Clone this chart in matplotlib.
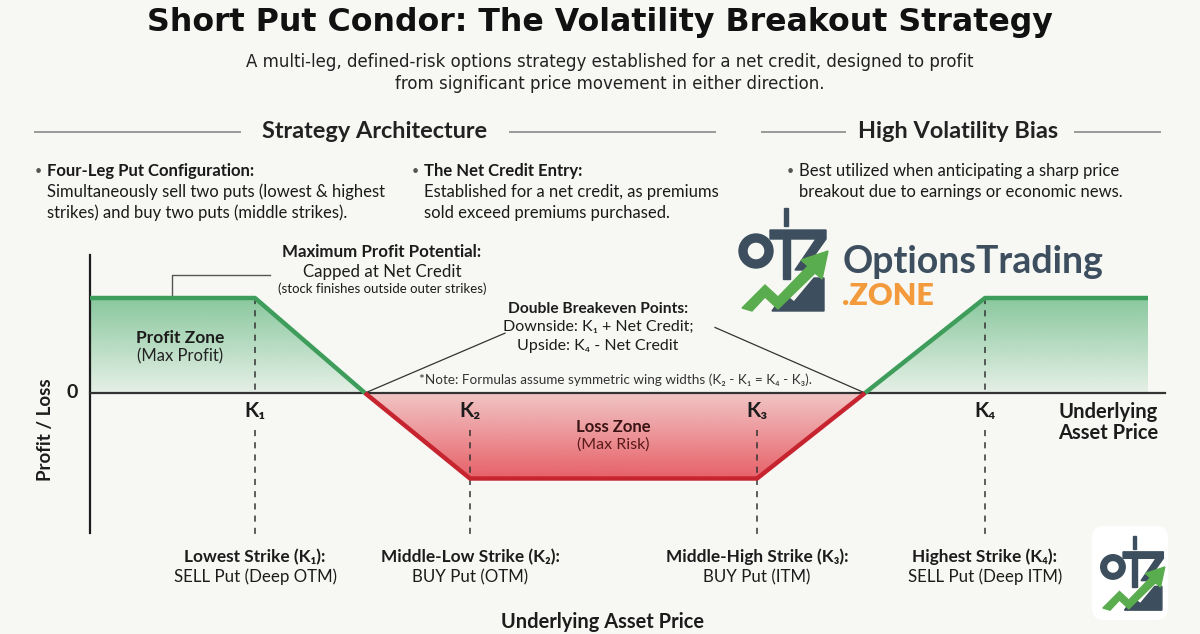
import numpy as np
import matplotlib
matplotlib.use("Agg")
import matplotlib.pyplot as plt
from matplotlib.patches import Rectangle, Wedge, Polygon, FancyBboxPatch

# --- payoff data (price in arbitrary units, P/L in units of net credit) ---
price_pts = [9.0, 25.5, 36.5, 47.0, 75.7, 86.5, 98.5, 114.8]
pnl_pts = [1.0, 1.0, 0.0, -0.9, -0.9, 0.0, 1.0, 1.0]
strikes = [25.5, 47.0, 75.7, 98.5]
strike_names = ["K\u2081", "K\u2082", "K\u2083", "K\u2084"]
strike_titles = ["Lowest Strike (K\u2081):", "Middle-Low Strike (K\u2082):",
                 "Middle-High Strike (K\u2083):", "Highest Strike (K\u2084):"]
strike_actions = ["SELL Put (Deep OTM)", "BUY Put (OTM)", "BUY Put (ITM)", "SELL Put (Deep ITM)"]

W, H = 1200, 634
BG = "#f7f8f4"
DARK = "#1c1c1c"
SLATE = "#3d4f5e"
GREEN = "#3f9d5c"
RED = "#c62530"
FONT = ["Lato", "DejaVu Sans"]
WIDE = ["DejaVu Sans"]
plt.rcParams["font.family"] = FONT

fig = plt.figure(figsize=(12, 6.34), dpi=100, facecolor=BG)

# decoration layer in pixel coordinates (y down)
deco = fig.add_axes([0, 0, 1, 1])
deco.set_xlim(0, W)
deco.set_ylim(H, 0)
deco.axis("off")
deco.patch.set_alpha(0)

# chart layer: zero line at y=393 px, 95 px per unit of P/L
ax = fig.add_axes([0, 0, 1, 1])
ax.axis("off")
ax.patch.set_alpha(0)
ax.set_autoscale_on(False)
ax.set_xlim(0, 120)
ax.set_ylim(-(H - 393) / 95, 393 / 95)


def T(x, y, s, size=11, weight="normal", color=DARK, ha="center", **kw):
    fig.text(x / W, 1 - y / H, s, fontsize=size, fontweight=weight, color=color,
             ha=ha, va="center", **kw)


def grad_fill(xs, ys, rgb, a_top, a_bot):
    poly = ax.fill_between(xs, ys, 0, color="none", lw=0)
    path = poly.get_paths()[0]
    lo, hi = min(min(ys), 0), max(max(ys), 0)
    alpha = np.linspace(a_top, a_bot, 256).reshape(-1, 1)
    img = np.zeros((256, 1, 4))
    img[..., 0], img[..., 1], img[..., 2] = rgb[0] / 255, rgb[1] / 255, rgb[2] / 255
    img[..., 3] = alpha
    im = ax.imshow(img, extent=[min(xs), max(xs), lo, hi], origin="upper",
                   aspect="auto", interpolation="bilinear", zorder=1)
    im.set_clip_path(path, transform=ax.transData)


# fills
grad_fill(price_pts[0:3], pnl_pts[0:3], (70, 170, 105), 0.62, 0.10)
grad_fill(price_pts[5:], pnl_pts[5:], (70, 170, 105), 0.62, 0.10)
grad_fill(price_pts[2:6], pnl_pts[2:6], (228, 70, 80), 0.28, 0.85)

# axes lines
ax.plot([price_pts[0], price_pts[0]], [-(533 - 393) / 95, (393 - 255) / 95], color=DARK, lw=1.6, zorder=3)
ax.plot([price_pts[0], 116.5], [0, 0], color="#333333", lw=1.6, zorder=3)

# payoff line
ax.plot(price_pts[0:3], pnl_pts[0:3], color=GREEN, lw=3.2, zorder=4, solid_capstyle="butt")
ax.plot(price_pts[5:], pnl_pts[5:], color=GREEN, lw=3.2, zorder=4, solid_capstyle="butt")
ax.plot(price_pts[2:6], pnl_pts[2:6], color=RED, lw=3.2, zorder=4, solid_capstyle="butt")

# strike guides and labels
for k, name in zip(strikes, strike_names):
    p = float(np.interp(k, price_pts, pnl_pts))
    if p > 0:
        ax.plot([k, k], [p, 0], color="#333333", lw=1.1, ls=(0, (4, 4)), zorder=2)
    ax.plot([k, k], [-0.39, -1.54], color="#333333", lw=1.1, ls=(0, (4, 4)), zorder=2)
    ax.text(k, -0.19, name, ha="center", va="center", fontsize=15, fontweight="bold", color=DARK)

# leader lines
ax.plot([17.2, 17.2, 27.0], [1.0, 1.24, 1.24], color="#555555", lw=1.0, zorder=3)
ax.plot([36.5, 50.5], [0, 0.63], color="#333333", lw=0.9, zorder=3)
ax.plot([71.5, 86.5], [0.69, 0], color="#333333", lw=0.9, zorder=3)

# --- title block ---
T(600, 23, "Short Put Condor: The Volatility Breakout Strategy", size=22.8, weight="bold",
  color="#111111", family=WIDE)
T(610, 62, "A multi-leg, defined-risk options strategy established for a net credit, designed to profit",
  size=12.0, color="#222222", family=WIDE)
T(610, 84, "from significant price movement in either direction.", size=12.0, color="#222222", family=WIDE)

# section headers
for x0, x1 in [(35, 240), (510, 715), (762, 845), (1075, 1160)]:
    deco.plot([x0, x1], [132, 132], color="#9a9a9a", lw=1.4)
T(375, 132, "Strategy Architecture", size=16.9, weight="bold", color="#222222")
T(958, 132, "High Volatility Bias", size=16.9, weight="bold", color="#222222")

bullets = [
    (35, ["Four-Leg Put Configuration:", "Simultaneously sell two puts (lowest & highest",
          "strikes) and buy two puts (middle strikes)."]),
    (412, ["The Net Credit Entry:", "Established for a net credit, as premiums",
           "sold exceed premiums purchased."]),
    (787, ["Best utilized when anticipating a sharp price",
           "breakout due to earnings or economic news."]),
]
for bx, lines in bullets:
    T(bx, 171, "\u2022", size=9, color="#555555", ha="left")
    for i, line in enumerate(lines):
        bold = (i == 0 and line.endswith(":"))
        T(bx + 12, 171 + 21 * i, line, size=12.0, weight="bold" if bold else "normal",
          color="#1a1a1a", ha="left")

# chart annotations
T(382, 252, "Maximum Profit Potential:", size=12.2, weight="bold")
T(382, 272, "Capped at Net Credit", size=12.2)
T(382, 289, "(stock finishes outside outer strikes)", size=9.5)
T(180, 338, "Profit Zone", size=12.5, weight="bold")
T(180, 356, "(Max Profit)", size=12, color="#222222")
T(598, 309, "Double Breakeven Points:", size=11.2, weight="bold")
T(598, 327, "Downside: K\u2081 + Net Credit;", size=11.5)
T(598, 346, "Upside: K\u2084 - Net Credit", size=11.5)
T(615, 380, "*Note: Formulas assume symmetric wing widths (K\u2082 - K\u2081 = K\u2084 - K\u2083).",
  size=9.7, color="#333333")
T(613, 427, "Loss Zone", size=12, weight="bold", color="#3a1414")
T(613, 445, "(Max Risk)", size=11.5, color="#5a1a1a")

T(72, 393, "0", size=14, weight="bold")
T(45, 430, "Profit / Loss", size=13.5, weight="bold", rotation=90)
T(1058, 412, "Underlying", size=14.5, weight="bold", ha="left")
T(1058, 433, "Asset Price", size=14.5, weight="bold", ha="left")

for k, t1, t2 in zip(strikes, strike_titles, strike_actions):
    xp = k * 10
    T(xp, 557, t1, size=12.4, weight="bold")
    T(xp, 577, t2, size=12.2)
T(603, 622, "Underlying Asset Price", size=14.4, weight="bold")


# --- logo ---
def icon(x0, y0, s):
    def P(pts):
        return [(x0 + a * s, y0 + b * s) for a, b in pts]
    deco.add_patch(Rectangle((x0 + 46 * s, y0), 4 * s, 18 * s, color=SLATE, zorder=6))
    deco.add_patch(Wedge((x0 + 18 * s, y0 + 43 * s), 17 * s, 0, 360, width=8 * s, color=SLATE, zorder=6))
    deco.add_patch(Polygon(P([(32, 22), (88, 22), (88, 31), (66, 62), (57, 62), (78, 31), (32, 31)]),
                           color=SLATE, zorder=6))
    deco.add_patch(Rectangle((x0 + 45 * s, y0 + 31 * s), 7 * s, 40 * s, color=SLATE, zorder=6))
    deco.add_patch(Polygon(P([(34, 103), (86, 103), (86, 70), (76, 70), (56, 94), (46, 86)]),
                           color=SLATE, zorder=6))
    deco.add_patch(Polygon(P([(4, 100), (27, 77), (40, 89), (70, 58), (63, 52), (90, 43),
                              (84, 71), (77, 65), (40, 101), (27, 89), (14, 103)]),
                           color="#5aad4e", zorder=7))


icon(738, 208, 1.0)
T(843, 262, "OptionsTrading", size=27, weight="bold", color=SLATE, ha="left")
T(842, 296, ".ZONE", size=22, weight="heavy", color="#f29a3c", ha="left")

deco.add_patch(FancyBboxPatch((1094, 528), 72, 90, boxstyle="round,pad=2,rounding_size=12",
                              fc="white", ec="none", zorder=5))
icon(1100, 536, 0.72)

fig.savefig("out.png", dpi=100, facecolor=BG)
